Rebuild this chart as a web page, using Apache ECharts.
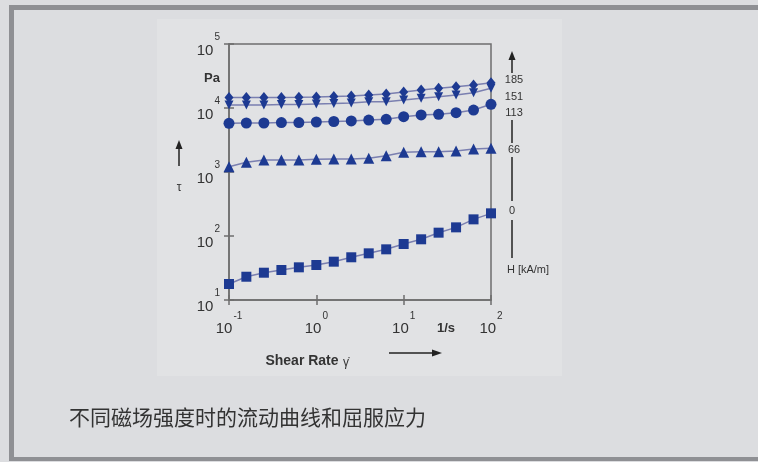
<!DOCTYPE html>
<html>
<head>
<meta charset="utf-8">
<script src="https://cdn.jsdelivr.net/npm/echarts@6/dist/echarts.min.js"></script>
<style>
html,body{margin:0;padding:0;background:#dcdde0;overflow:hidden;}
#c{width:758px;height:462px;}
</style>
</head>
<body>
<div id="c"></div>
<script>
// Shear rate (1/s) – x values
const shearRate = [0.1, 0.158, 0.251, 0.398, 0.631, 1, 1.585, 2.512, 3.981, 6.31, 10, 15.85, 25.12, 39.81, 63.1, 100];
// Shear stress tau (Pa) for magnetic field strengths H (kA/m)
const tau0   = [17.8, 23.1, 26.7, 29.4, 32.4, 35.2, 39.7, 46.5, 53.6, 61.9, 75, 88.8, 112.7, 136.5, 182, 226];
const tau66  = [1211, 1419, 1540, 1540, 1540, 1578, 1597, 1597, 1637, 1799, 2032, 2075, 2075, 2128, 2286, 2344];
const tau113 = [5770, 5830, 5830, 5930, 5930, 6040, 6150, 6270, 6490, 6650, 7310, 7780, 7980, 8450, 9300, 11430];
const tau151 = [11140, 11140, 11140, 11350, 11350, 11550, 11750, 11970, 12540, 12540, 13340, 14190, 15030, 15960, 17340, 20320];
const tau185 = [14590, 14590, 14590, 14590, 14690, 14860, 15130, 15420, 15970, 16560, 17780, 19100, 20320, 21530, 22870, 24830];
const fieldLabels = ['185', '151', '113', '66', '0'];
const caption = '不同磁场强度时的流动曲线和屈服应力';

const pairs = ys => shearRate.map((x, i) => [x, ys[i]]);
const chart = echarts.init(document.getElementById('c'));

const markColor = '#1d3a92';
const lineColor = '#7a7fb0';
const axisColor = '#6e6e6e';
const textColor = '#333';

function supLabel(v) {
  const e = Math.round(Math.log10(v));
  return '{b|10}{s|' + e + '}';
}
const richY = {
  b: {fontSize: 15, fontFamily: 'Liberation Sans', color: textColor, padding: [13, 0, 0, 0]},
  s: {fontSize: 10, fontFamily: 'Liberation Sans', color: textColor, padding: [0, 0, 14, 1]}
};
const richX = {
  b: {fontSize: 15, fontFamily: 'Liberation Sans', color: textColor, padding: [13, 0, 0, 0]},
  s: {fontSize: 10, fontFamily: 'Liberation Sans', color: textColor, padding: [0, 0, 12, 1]}
};

function mkSeries(name, data, symbol, size, rotate) {
  return {
    name, type: 'line', data: pairs(data), symbol, symbolSize: size, symbolRotate: rotate || 0,
    xAxisIndex: 0, yAxisIndex: 0,
    lineStyle: {color: lineColor, width: 1.5},
    itemStyle: {color: markColor},
    silent: true, animation: false
  };
}

const T = (text, x, y, extra) => Object.assign({
  type: 'text', x, y, z: 50,
  style: Object.assign({text, fill: textColor, fontFamily: 'Liberation Sans', fontSize: 12, align: 'center', verticalAlign: 'middle'}, extra || {})
});
const L = (x1, y1, x2, y2, w, c) => ({type: 'line', z: 50, shape: {x1, y1, x2, y2}, style: {stroke: c || '#222', lineWidth: w || 1.5}});
const P = (pts) => ({type: 'polygon', z: 50, shape: {points: pts}, style: {fill: '#222'}});

chart.setOption({
  animation: false,
  backgroundColor: 'transparent',
  grid: {left: 229, right: 267, top: 44, bottom: 162, show: true, borderColor: axisColor, borderWidth: 1.5, backgroundColor: 'transparent'},
  xAxis: [
    {type: 'log', logBase: 10, min: 0.1, max: 100, position: 'bottom',
     axisLine: {lineStyle: {color: axisColor, width: 1.5}},
     axisTick: {show: true, inside: false, length: 5, lineStyle: {color: axisColor, width: 1.5}},
     splitLine: {show: false},
     axisLabel: {margin: 8, formatter: supLabel, rich: richX}},
    {type: 'log', logBase: 10, min: 0.1, max: 100, position: 'bottom',
     axisLine: {show: false},
     axisTick: {show: true, inside: true, length: 5, lineStyle: {color: axisColor, width: 1.5}},
     splitLine: {show: false}, axisLabel: {show: false}}
  ],
  yAxis: [
    {type: 'log', logBase: 10, min: 10, max: 100000, position: 'left',
     axisLine: {lineStyle: {color: axisColor, width: 1.5}},
     axisTick: {show: true, inside: false, length: 5, lineStyle: {color: axisColor, width: 1.5}},
     splitLine: {show: false},
     axisLabel: {margin: 9, formatter: supLabel, rich: richY}},
    {type: 'log', logBase: 10, min: 10, max: 100000, position: 'left',
     axisLine: {show: false},
     axisTick: {show: true, inside: true, length: 5, lineStyle: {color: axisColor, width: 1.5}},
     splitLine: {show: false}, axisLabel: {show: false}}
  ],
  series: [
    mkSeries('H=0', tau0, 'rect', 10),
    mkSeries('H=66', tau66, 'triangle', 11),
    mkSeries('H=113', tau113, 'circle', 11),
    mkSeries('H=151', tau151, 'triangle', 9, 180),
    mkSeries('H=185', tau185, 'diamond', [9, 11])
  ],
  graphic: [
    {type: 'rect', z: -100, shape: {x: 0, y: 0, width: 758, height: 462}, style: {fill: '#dcdde0'}},
    L(9, 7.5, 758, 7.5, 5, '#8f9094'),
    L(11.5, 5, 11.5, 461, 5, '#8f9094'),
    L(9, 459, 758, 459, 4, '#8f9094'),
    {type: 'rect', z: -99, shape: {x: 157, y: 19, width: 405, height: 357}, style: {fill: '#e1e2e4'}},
    // y-axis annotations
    T('Pa', 212, 78, {fontWeight: 'bold', fontSize: 13}),
    L(179, 166, 179, 147), P([[175.5, 149], [182.5, 149], [179, 140]]),
    T('τ', 179, 188, {fontSize: 12}),
    // x-axis annotations
    T('1/s', 446, 328, {fontWeight: 'bold', fontSize: 13}),
    T('Shear Rate', 302, 361, {fontWeight: 'bold', fontSize: 14}),
    T('γ̇', 346, 363, {fontSize: 12}),
    L(389, 353, 433, 353), P([[432, 349.5], [432, 356.5], [442, 353]]),
    // field strength scale
    L(512, 73, 512, 58), P([[508.5, 60], [515.5, 60], [512, 51]]),
    T(fieldLabels[0], 514, 80, {fontSize: 11}),
    T(fieldLabels[1], 514, 97, {fontSize: 11}),
    T(fieldLabels[2], 514, 113, {fontSize: 11}),
    L(512, 120, 512, 143),
    T(fieldLabels[3], 514, 150, {fontSize: 11}),
    L(512, 157, 512, 201),
    T(fieldLabels[4], 512, 211, {fontSize: 11}),
    L(512, 220, 512, 258),
    T('H [kA/m]', 528, 270, {fontSize: 11}),
    // caption
    T(caption, 69, 417, {fontFamily: 'Noto Sans CJK SC', fontSize: 21, align: 'left', fill: '#333'})
  ]
});
</script>
</body>
</html>
